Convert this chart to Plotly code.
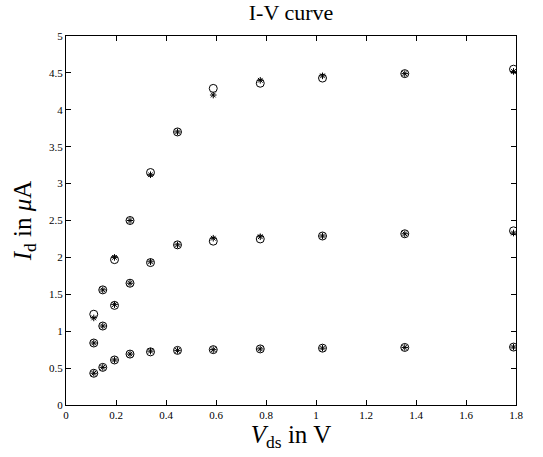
import plotly.graph_objects as go

vds = [0.111, 0.147, 0.194, 0.256, 0.338, 0.446, 0.589, 0.777, 1.026, 1.355, 1.79]

# measured (circles)
id_high_meas = [1.23, 1.56, 1.97, 2.50, 3.15, 3.70, 4.29, 4.36, 4.43, 4.49, 4.55]
id_mid_meas = [0.84, 1.07, 1.35, 1.65, 1.93, 2.17, 2.22, 2.25, 2.29, 2.32, 2.36]
id_low_meas = [0.43, 0.51, 0.61, 0.69, 0.72, 0.74, 0.75, 0.76, 0.77, 0.78, 0.785]

# model (asterisks)
id_high_model = [1.18, 1.56, 2.00, 2.50, 3.12, 3.70, 4.20, 4.40, 4.46, 4.49, 4.52]
id_mid_model = [0.84, 1.07, 1.36, 1.65, 1.94, 2.17, 2.26, 2.28, 2.29, 2.32, 2.33]
id_low_model = [0.43, 0.51, 0.61, 0.69, 0.73, 0.74, 0.75, 0.76, 0.77, 0.78, 0.785]

x_ticks = [0, 0.2, 0.4, 0.6, 0.8, 1, 1.2, 1.4, 1.6, 1.8]
x_tick_labels = ["0", "0.2", "0.4", "0.6", "0.8", "1", "1.2", "1.4", "1.6", "1.8"]
y_ticks = [0, 0.5, 1, 1.5, 2, 2.5, 3, 3.5, 4, 4.5, 5]
y_tick_labels = ["0", "0.5", "1", "1.5", "2", "2.5", "3", "3.5", "4", "4.5", "5"]

fig = go.Figure()
for ys in (id_high_meas, id_mid_meas, id_low_meas):
    fig.add_trace(go.Scatter(x=vds, y=ys, mode="markers",
                             marker=dict(symbol="circle-open", size=8, color="black",
                                         line=dict(width=1, color="black"))))
for ys in (id_high_model, id_mid_model, id_low_model):
    fig.add_trace(go.Scatter(x=vds, y=ys, mode="markers",
                             marker=dict(symbol="asterisk-open", size=5.5, color="black",
                                         line=dict(width=1, color="black"))))

serif = "Liberation Serif, Times New Roman, serif"
axis_common = dict(showgrid=False, zeroline=False, showline=True, linecolor="black",
                   linewidth=1, mirror="allticks", ticks="inside", ticklen=5,
                   tickcolor="black", tickwidth=1, automargin=False,
                   tickfont=dict(family=serif, size=11, color="black"))

fig.update_layout(
    width=543, height=457,
    margin=dict(l=66, r=27, t=36, b=52),
    paper_bgcolor="white", plot_bgcolor="white",
    showlegend=False,
    font=dict(family=serif, color="black"),
    title=dict(text="I-V curve", xref="paper", x=0.5, xanchor="center",
               y=0.972, yanchor="middle",
               font=dict(family=serif, size=22, color="black")),
    xaxis=dict(range=[0, 1.8], tickvals=x_ticks, ticktext=x_tick_labels,
               title=dict(text="<i>V</i><sub>ds</sub> in V", standoff=4,
                          font=dict(family=serif, size=25, color="black")),
               **axis_common),
    yaxis=dict(range=[0, 5], tickvals=y_ticks, ticktext=y_tick_labels,
               title=dict(text="<i>I</i><sub>d</sub> in <i>μ</i>A", standoff=10,
                          font=dict(family=serif, size=25, color="black")),
               **axis_common),
)

fig.write_html("out.html", config={"displayModeBar": False},
               post_script="document.body.style.margin='0';")
